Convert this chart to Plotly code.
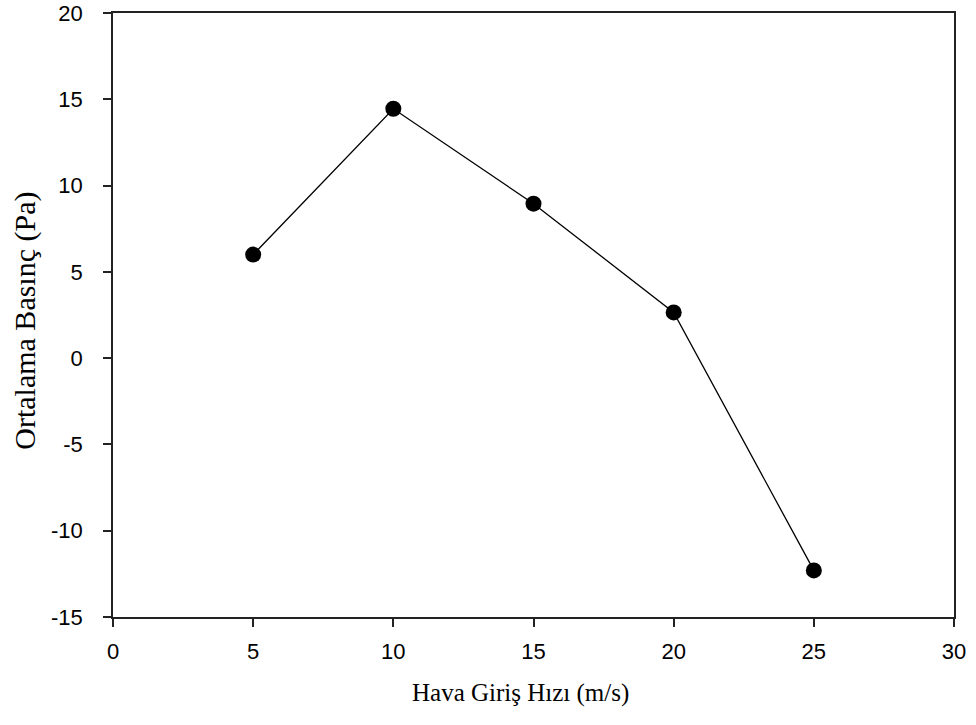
import plotly.graph_objects as go

speed = [5, 10, 15, 20, 25]
pressure = [6.0, 14.45, 8.95, 2.65, -12.3]
x_ticks = [0, 5, 10, 15, 20, 25, 30]
y_ticks = [-15, -10, -5, 0, 5, 10, 15, 20]
y_tick_text = ["-15", "-10", "-5", "0", "5", "10", "15", "20"]

fig = go.Figure()
fig.add_trace(go.Scatter(
    x=speed, y=pressure, mode="lines+markers",
    line=dict(color="black", width=1.3),
    marker=dict(color="black", size=16),
    showlegend=False,
))

axis_common = dict(
    showgrid=False, zeroline=False, showline=True, linecolor="#222", linewidth=1.6,
    mirror=True, ticks="outside", ticklen=8, tickwidth=1.5, tickcolor="#222",
    automargin=False,
    tickfont=dict(family="Liberation Sans, Arial", size=22, color="black"),
)
fig.update_xaxes(range=[0, 30], tickvals=x_ticks, ticklabelstandoff=6, **axis_common)
fig.update_yaxes(range=[-15, 20], tickvals=y_ticks, ticktext=y_tick_text, ticklabelstandoff=16,
                 **axis_common)
fig.update_layout(
    width=976, height=725, paper_bgcolor="white", plot_bgcolor="white",
    margin=dict(l=113, r=22, t=13, b=108),
    annotations=[
        dict(text="Hava Giriş Hızı (m/s)", xref="paper", yref="paper", x=0.484, y=-0.125,
             xanchor="center", yanchor="middle", showarrow=False,
             font=dict(family="Liberation Serif, Times New Roman", size=25, color="black")),
        dict(text="Ortalama Basınç (Pa)", xref="paper", yref="paper", x=-0.105, y=0.49,
             xanchor="center", yanchor="middle", showarrow=False, textangle=-90,
             font=dict(family="Liberation Serif, Times New Roman", size=30, color="black")),
    ],
)
fig.write_html("out.html")
